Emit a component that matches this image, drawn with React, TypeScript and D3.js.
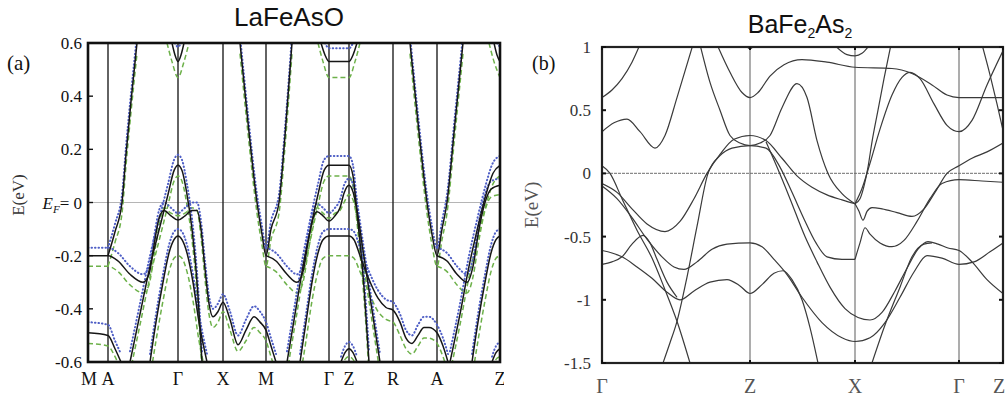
import React from "react";
import * as d3 from "d3";

// ================= Panel (a): LaFeAsO =================
const aPointLabels = ["M", "A", "Γ", "X", "M", "Γ", "Z", "R", "A", "Z"];
const aPointK = [0, 20, 90, 135, 178, 241, 261, 305, 349, 412];
const aTickValues = [0.6, 0.4, 0.2, 0, -0.2, -0.4, -0.6];
const aTickLabels = ["0.6", "0.4", "0.2", "EF", "-0.2", "-0.4", "-0.6"];

// band a1: flat -0.2 (M-A), dip, twin maxima around Γ, X, M
const a1K = [0, 20, 30, 42, 55, 61, 66, 71, 76, 83, 90, 97, 104, 109, 113, 117, 121, 125, 130, 135, 142, 150, 158, 166, 172, 178, 183, 188];
const a1Solid = [-0.2, -0.2, -0.22, -0.27, -0.3, -0.27, -0.16, -0.06, -0.03, -0.05, -0.066, -0.05, -0.03, -0.03, -0.1, -0.25, -0.38, -0.43, -0.41, -0.375, -0.44, -0.535, -0.48, -0.43, -0.45, -0.48, -0.54, -0.6];
const a1Dot = [-0.17, -0.17, -0.19, -0.24, -0.27, -0.24, -0.13, -0.03, 0.0, -0.02, -0.04, -0.02, 0.0, 0.0, -0.07, -0.22, -0.35, -0.4, -0.38, -0.345, -0.41, -0.5, -0.44, -0.39, -0.41, -0.45, -0.51, -0.57];
const a1Dash = [-0.24, -0.24, -0.26, -0.31, -0.34, -0.31, -0.2, -0.09, -0.02, -0.04, -0.05, -0.04, -0.02, -0.03, -0.13, -0.29, -0.42, -0.47, -0.45, -0.41, -0.48, -0.56, -0.52, -0.47, -0.49, -0.52, -0.58, -0.64];

// band a2: M -> Γ -> bump at Z
const a2K = [178, 188, 199, 209, 215, 220, 225, 229, 235, 241, 247, 252, 256, 261, 265, 269, 275, 283, 292];
const a2Solid = [-0.2, -0.22, -0.27, -0.3, -0.26, -0.15, -0.06, -0.035, -0.05, -0.07, -0.05, -0.02, 0.035, 0.065, 0.04, -0.03, -0.18, -0.38, -0.6];
const a2Dot = [-0.17, -0.19, -0.24, -0.27, -0.23, -0.12, -0.03, -0.005, -0.02, -0.04, -0.02, 0.01, 0.065, 0.09, 0.07, 0.0, -0.15, -0.35, -0.57];
const a2Dash = [-0.24, -0.26, -0.31, -0.34, -0.3, -0.19, -0.08, -0.02, -0.04, -0.06, -0.04, -0.03, 0.0, 0.03, 0.01, -0.06, -0.22, -0.42, -0.64];

// band a3: A -> Z
const a3K = [349, 359, 369, 379, 385, 391, 397, 403, 412];
const a3Solid = [-0.2, -0.22, -0.27, -0.3, -0.24, -0.1, 0.0, 0.05, 0.065];
const a3Dot = [-0.17, -0.19, -0.24, -0.27, -0.21, -0.07, 0.03, 0.08, 0.09];
const a3Dash = [-0.24, -0.26, -0.31, -0.34, -0.28, -0.14, -0.03, 0.02, 0.03];

// band a4: -0.13 hole band at Γ
const a4K = [62, 68, 75, 81, 86, 90, 94, 99, 105, 111, 119];
const a4Solid = [-0.6, -0.45, -0.3, -0.19, -0.14, -0.126, -0.14, -0.19, -0.3, -0.45, -0.6];
const a4Dot = [-0.57, -0.42, -0.27, -0.16, -0.11, -0.1, -0.11, -0.16, -0.27, -0.42, -0.57];
const a4Dash = [-0.66, -0.52, -0.37, -0.26, -0.21, -0.2, -0.21, -0.26, -0.37, -0.52, -0.66];

// band a5: -0.13 at Γ-Z, down to R, R -> A
const a5K = [212, 218, 224, 230, 235, 241, 261, 266, 272, 280, 290, 298, 305, 312, 318, 324, 330, 336, 341, 349, 355, 360];
const a5Solid = [-0.6, -0.45, -0.3, -0.19, -0.14, -0.126, -0.126, -0.14, -0.2, -0.28, -0.36, -0.395, -0.405, -0.45, -0.51, -0.53, -0.5, -0.47, -0.47, -0.49, -0.54, -0.6];
const a5Dot = [-0.57, -0.42, -0.27, -0.16, -0.11, -0.1, -0.1, -0.11, -0.17, -0.25, -0.33, -0.365, -0.375, -0.42, -0.48, -0.5, -0.46, -0.43, -0.43, -0.46, -0.51, -0.57];
const a5Dash = [-0.66, -0.52, -0.37, -0.26, -0.21, -0.2, -0.2, -0.21, -0.26, -0.33, -0.41, -0.44, -0.45, -0.5, -0.55, -0.57, -0.54, -0.51, -0.51, -0.53, -0.58, -0.64];

// band a6: hole band with top at 0.14 (Γ)
const a6K = [42, 52, 62, 72, 80, 86, 90, 94, 99, 104, 109, 114];
const a6Solid = [-0.6, -0.42, -0.24, -0.09, 0.03, 0.12, 0.14, 0.12, 0.03, -0.1, -0.3, -0.6];
const a6Dot = [-0.56, -0.38, -0.2, -0.05, 0.07, 0.16, 0.18, 0.16, 0.07, -0.06, -0.26, -0.56];
const a6Dash = [-0.64, -0.46, -0.28, -0.13, -0.01, 0.08, 0.1, 0.08, -0.01, -0.14, -0.34, -0.64];

// band a7: hole band 0.14, flat Γ-Z
const a7K = [199, 207, 215, 223, 230, 236, 241, 261, 265, 268, 272, 276, 281];
const a7Solid = [-0.6, -0.42, -0.24, -0.09, 0.03, 0.12, 0.14, 0.14, 0.1, 0.0, -0.15, -0.32, -0.6];
const a7Dot = [-0.56, -0.38, -0.2, -0.05, 0.07, 0.16, 0.175, 0.175, 0.14, 0.04, -0.11, -0.28, -0.56];
const a7Dash = [-0.64, -0.46, -0.28, -0.13, -0.01, 0.08, 0.1, 0.1, 0.06, -0.04, -0.19, -0.36, -0.64];

// band a8: hole band 0.14 ending at Z
const a8K = [362, 372, 381, 390, 398, 405, 412];
const a8Solid = [-0.6, -0.42, -0.24, -0.09, 0.03, 0.11, 0.14];
const a8Dot = [-0.56, -0.38, -0.2, -0.05, 0.07, 0.15, 0.175];
const a8Dash = [-0.64, -0.46, -0.28, -0.13, -0.01, 0.07, 0.1];

// band a9: -0.13 band ending at Z
const a9K = [384, 390, 397, 403, 408, 412];
const a9Solid = [-0.6, -0.45, -0.3, -0.19, -0.14, -0.126];
const a9Dot = [-0.57, -0.42, -0.27, -0.16, -0.11, -0.1];
const a9Dash = [-0.66, -0.52, -0.37, -0.26, -0.21, -0.2];

// band a10-a12: top bands near 0.53
const a10K = [84, 87, 90, 93, 96];
const a10Solid = [0.6, 0.555, 0.53, 0.555, 0.6];
const a10DotK = [87, 90, 93];
const a10Dot = [0.6, 0.585, 0.6];
const a10DashK = [79, 84, 90, 96, 101];
const a10Dash = [0.6, 0.53, 0.47, 0.53, 0.6];

const a11K = [233, 237, 241, 261, 265, 269];
const a11Solid = [0.6, 0.555, 0.53, 0.53, 0.555, 0.6];
const a11DotK = [237, 241, 261, 265];
const a11Dot = [0.6, 0.58, 0.58, 0.6];
const a11DashK = [230, 235, 241, 261, 267, 272];
const a11Dash = [0.6, 0.53, 0.47, 0.47, 0.53, 0.6];

const a12K = [406, 409, 412];
const a12Solid = [0.6, 0.555, 0.53];
const a12DotK = [409, 412];
const a12Dot = [0.6, 0.585];
const a12DashK = [401, 406, 412];
const a12Dash = [0.6, 0.53, 0.47];

// band a13: bottom flat M-A
const a13K = [0, 20, 27, 33];
const a13Solid = [-0.49, -0.5, -0.55, -0.6];
const a13Dot = [-0.45, -0.46, -0.52, -0.57];
const a13Dash = [-0.53, -0.54, -0.58, -0.63];

// bands a14, a15: small arcs at the bottom (Z)
const a14K = [253, 257, 261, 265, 269];
const a14Solid = [-0.6, -0.565, -0.55, -0.565, -0.6];
const a14Dot = [-0.58, -0.54, -0.525, -0.54, -0.58];
const a14Dash = [-0.62, -0.59, -0.58, -0.59, -0.62];
const a15K = [404, 408, 412];
const a15Solid = [-0.6, -0.565, -0.55];
const a15Dot = [-0.58, -0.54, -0.525];
const a15Dash = [-0.62, -0.59, -0.58];

// bands a16-a18: electron bands (steep V's)
const a16K = [20, 27, 34, 38, 43, 49];
const a16Solid = [-0.2, -0.11, 0.0, 0.18, 0.38, 0.6];
const a16Dot = [-0.17, -0.08, 0.03, 0.21, 0.41, 0.63];
const a16Dash = [-0.24, -0.15, -0.04, 0.14, 0.34, 0.56];
const a17K = [152, 160, 169, 174, 178, 183, 191, 197, 204];
const a17Solid = [0.6, 0.3, 0.0, -0.12, -0.2, -0.1, 0.0, 0.25, 0.6];
const a17Dot = [0.63, 0.33, 0.03, -0.09, -0.17, -0.07, 0.03, 0.28, 0.63];
const a17Dash = [0.56, 0.26, -0.04, -0.16, -0.24, -0.14, -0.04, 0.21, 0.56];
const a18K = [322, 330, 339, 344, 349, 354, 359, 367, 375];
const a18Solid = [0.6, 0.3, 0.0, -0.12, -0.2, -0.1, 0.0, 0.3, 0.6];
const a18Dot = [0.63, 0.33, 0.03, -0.09, -0.17, -0.07, 0.03, 0.33, 0.63];
const a18Dash = [0.56, 0.26, -0.04, -0.16, -0.24, -0.14, -0.04, 0.26, 0.56];

// ================= Panel (b): BaFe2As2 =================
const bPointLabels = ["Γ", "Z", "X", "Γ", "Z"];
const bPointK = [0, 148, 253, 357, 401];
const bTickValues = [1, 0.5, 0, -0.5, -1, -1.5];
const bTickLabels = ["1", "0.5", "0", "-0.5", "-1", "-1.5"];

const b1K = [0, 10, 20, 30, 38];
const b1E = [0.6, 0.66, 0.75, 0.88, 1.02];
const b2K = [0, 12, 25, 38, 53, 63, 75, 91];
const b2E = [0.33, 0.4, 0.43, 0.33, 0.2, 0.3, 0.6, 1.02];
const b3K = [115, 128, 140, 148, 156, 168, 182, 200, 225, 253, 290, 310, 330, 345, 357, 401];
const b3E = [1.02, 0.8, 0.64, 0.6, 0.64, 0.77, 0.86, 0.9, 0.88, 0.84, 0.83, 0.79, 0.7, 0.62, 0.6, 0.6];
const b4K = [232, 245, 253, 260, 268];
const b4E = [1.02, 0.94, 0.93, 0.95, 1.02];
const b4bK = [143, 148, 153];
const b4bE = [1.02, 0.985, 1.02];
const b5K = [98, 108, 118, 128, 138, 148, 158, 168, 180, 195, 205, 215, 226, 240, 253];
const b5E = [1.02, 0.72, 0.5, 0.3, 0.24, 0.22, 0.24, 0.3, 0.52, 0.71, 0.6, 0.26, 0.0, -0.16, -0.24];
const b6K = [0, 15, 30, 45, 63, 78, 92, 105, 118, 132, 148, 164, 180, 195, 210, 225, 240, 253];
const b6E = [-0.08, -0.15, -0.28, -0.4, -0.46, -0.38, -0.2, 0.0, 0.15, 0.27, 0.3, 0.26, 0.12, -0.02, -0.11, -0.17, -0.21, -0.24];
const b7K = [61, 68, 75, 85, 95, 106, 118, 130, 148, 164, 178, 190, 202, 214, 225, 240, 253];
const b7E = [-1.5, -1.34, -1.17, -0.82, -0.42, 0.0, 0.14, 0.2, 0.22, 0.2, 0.05, -0.15, -0.36, -0.55, -0.66, -0.68, -0.68];
const b8K = [0, 8, 20, 35, 50, 62, 75, 88];
const b8E = [0.06, 0.0, -0.2, -0.45, -0.67, -0.9, -1.17, -1.5];
const b9K = [0, 15, 30, 45, 60, 72, 82, 95, 110, 125, 148, 160, 172, 185, 200, 220, 240, 253, 268, 283, 298, 312, 325, 340, 357, 372, 388, 401];
const b9E = [-0.1, -0.2, -0.35, -0.52, -0.66, -0.74, -0.76, -0.7, -0.6, -0.56, -0.55, -0.58, -0.68, -0.8, -0.98, -1.18, -1.3, -1.33, -1.3, -1.18, -0.98, -0.78, -0.65, -0.67, -0.72, -0.7, -0.62, -0.55];
const b10K = [0, 10, 20, 35, 50, 65, 78, 92, 108, 125, 138, 148, 160, 172, 181, 190, 200, 208, 216];
const b10E = [-0.61, -0.63, -0.66, -0.74, -0.83, -0.94, -1.0, -0.93, -0.86, -0.84, -0.89, -0.95, -0.88, -0.79, -0.77, -0.84, -1.0, -1.22, -1.5];
const b11K = [0, 10, 20, 30, 41, 48, 55, 65, 75];
const b11E = [-0.72, -0.7, -0.66, -0.56, -0.49, -0.55, -0.68, -0.86, -0.98];
const b12K = [164, 175, 188, 203, 215, 228, 243, 256, 268, 280, 293, 305, 316, 326, 336, 346, 357, 370, 385, 401];
const b12E = [0.25, 0.05, -0.2, -0.5, -0.7, -0.9, -1.07, -1.14, -1.16, -1.1, -0.93, -0.75, -0.6, -0.54, -0.56, -0.59, -0.61, -0.7, -0.84, -0.95];
const b13K = [270, 283, 298, 310, 322, 330];
const b13E = [-1.5, -1.2, -0.9, -0.66, -0.56, -0.55];
const b14K = [253, 258, 262, 266, 270, 276, 282, 289];
const b14E = [-0.24, -0.2, -0.1, 0.05, 0.25, 0.5, 0.75, 1.02];
const b15K = [253, 260, 268, 278, 290, 300, 308, 318, 332, 345, 357, 370, 385, 401];
const b15E = [-0.24, -0.12, 0.08, 0.35, 0.62, 0.76, 0.8, 0.75, 0.55, 0.38, 0.33, 0.42, 0.7, 0.97];
const b16K = [253, 257, 261, 265, 270, 280, 295, 310, 322, 333, 345, 357, 370, 385, 401];
const b16E = [-0.24, -0.3, -0.37, -0.3, -0.27, -0.28, -0.31, -0.34, -0.28, -0.15, 0.0, 0.06, 0.12, 0.17, 0.24];
const b17K = [253, 258, 263, 268, 278, 290, 302, 315, 328, 340, 357, 380, 401];
const b17E = [-0.68, -0.55, -0.43, -0.48, -0.55, -0.58, -0.53, -0.38, -0.2, -0.08, -0.05, -0.06, -0.07];
const b18K = [380, 388, 395, 401];
const b18E = [1.02, 0.78, 0.55, 0.34];

// ---------------------------------------------------------
type Pt = [number, number];
const pts = (k: number[], e: number[]): Pt[] => k.map((v, i) => [v, e[i]]);

interface BandA { k: number[]; solid: number[]; dot: number[]; dash: number[]; kDot?: number[]; kDash?: number[] }
const aBands: BandA[] = [
  { k: a1K, solid: a1Solid, dot: a1Dot, dash: a1Dash },
  { k: a2K, solid: a2Solid, dot: a2Dot, dash: a2Dash },
  { k: a3K, solid: a3Solid, dot: a3Dot, dash: a3Dash },
  { k: a4K, solid: a4Solid, dot: a4Dot, dash: a4Dash },
  { k: a5K, solid: a5Solid, dot: a5Dot, dash: a5Dash },
  { k: a6K, solid: a6Solid, dot: a6Dot, dash: a6Dash },
  { k: a7K, solid: a7Solid, dot: a7Dot, dash: a7Dash },
  { k: a8K, solid: a8Solid, dot: a8Dot, dash: a8Dash },
  { k: a9K, solid: a9Solid, dot: a9Dot, dash: a9Dash },
  { k: a10K, solid: a10Solid, dot: a10Dot, dash: a10Dash, kDot: a10DotK, kDash: a10DashK },
  { k: a11K, solid: a11Solid, dot: a11Dot, dash: a11Dash, kDot: a11DotK, kDash: a11DashK },
  { k: a12K, solid: a12Solid, dot: a12Dot, dash: a12Dash, kDot: a12DotK, kDash: a12DashK },
  { k: a13K, solid: a13Solid, dot: a13Dot, dash: a13Dash },
  { k: a14K, solid: a14Solid, dot: a14Dot, dash: a14Dash },
  { k: a15K, solid: a15Solid, dot: a15Dot, dash: a15Dash },
  { k: a16K, solid: a16Solid, dot: a16Dot, dash: a16Dash },
  { k: a17K, solid: a17Solid, dot: a17Dot, dash: a17Dash },
  { k: a18K, solid: a18Solid, dot: a18Dot, dash: a18Dash },
];

const bBands: Pt[][] = [
  pts(b1K, b1E), pts(b2K, b2E), pts(b3K, b3E), pts(b4K, b4E), pts(b4bK, b4bE),
  pts(b5K, b5E), pts(b6K, b6E), pts(b7K, b7E), pts(b8K, b8E), pts(b9K, b9E),
  pts(b10K, b10E), pts(b11K, b11E), pts(b12K, b12E), pts(b13K, b13E),
  pts(b14K, b14E), pts(b15K, b15E), pts(b16K, b16E), pts(b17K, b17E), pts(b18K, b18E),
];

const serif = "'Liberation Serif', 'Times New Roman', serif";
const sans = "'Liberation Sans', Arial, sans-serif";

export default function App() {
  const ax = d3.scaleLinear().domain([0, 412]).range([88, 500]);
  const ay = d3.scaleLinear().domain([-0.6, 0.6]).range([362, 43]);
  const bx = d3.scaleLinear().domain([0, 401]).range([602, 1003]);
  const by = d3.scaleLinear().domain([-1.5, 1]).range([363, 47]);

  const aLine = d3.line<Pt>().x((d) => ax(d[0])).y((d) => ay(d[1])).curve(d3.curveMonotoneX);
  const bLine = d3.line<Pt>().x((d) => bx(d[0])).y((d) => by(d[1])).curve(d3.curveMonotoneX);

  const [ax0, ax1] = ax.range();
  const [ay1, ay0] = ay.range();
  const [bx0, bx1] = bx.range();
  const [by1, by0] = by.range();

  return (
    <svg width={1007} height={398} style={{ position: "absolute", left: 0, top: 0, background: "#fff" }}
      xmlns="http://www.w3.org/2000/svg">
      <defs>
        <clipPath id="clipA"><rect x={ax0} y={ay0} width={ax1 - ax0} height={ay1 - ay0} /></clipPath>
        <clipPath id="clipB"><rect x={bx0} y={by0} width={bx1 - bx0} height={by1 - by0} /></clipPath>
      </defs>
      <rect x={0} y={0} width={1007} height={398} fill="#fff" />

      {/* ---------- Panel (a) ---------- */}
      <text x={289} y={26} textAnchor="middle" fontFamily={sans} fontSize={26} fill="#111">LaFeAsO</text>
      <text x={7} y={70} fontFamily={serif} fontSize={21} fill="#111">(a)</text>
      <line x1={ax0} x2={ax1} y1={ay(0)} y2={ay(0)} stroke="#b5b5b5" strokeWidth={1.2} />
      {aPointK.map((k, i) => (
        <line key={"av" + i} x1={ax(k)} x2={ax(k)} y1={ay0} y2={ay1} stroke="#222" strokeWidth={1.4} />
      ))}
      <g clipPath="url(#clipA)" fill="none">
        {aBands.map((b, i) => (
          <path key={"ag" + i} d={aLine(pts(b.kDash || b.k, b.dash)) || ""} stroke="#6db14a"
            strokeWidth={1.5} strokeDasharray="5 3" />
        ))}
        {aBands.map((b, i) => (
          <path key={"ab" + i} d={aLine(pts(b.kDot || b.k, b.dot)) || ""} stroke="#4f5fc6"
            strokeWidth={2} strokeDasharray="0.5 3" strokeLinecap="round" />
        ))}
        {aBands.map((b, i) => (
          <path key={"as" + i} d={aLine(pts(b.k, b.solid)) || ""} stroke="#161616" strokeWidth={1.5} />
        ))}
      </g>
      <rect x={ax0} y={ay0} width={ax1 - ax0} height={ay1 - ay0} fill="none" stroke="#111" strokeWidth={2.6} />
      {aTickValues.map((v, i) => (
        <line key={"at" + i} x1={ax0} x2={ax0 + 5} y1={ay(v)} y2={ay(v)} stroke="#111" strokeWidth={1.4} />
      ))}
      {aTickValues.map((v, i) =>
        aTickLabels[i] === "EF" ? (
          <text key={"al" + i} x={82} y={ay(v) + 6} textAnchor="end" fontFamily={serif} fontSize={17} fill="#111">
            <tspan fontStyle="italic">E</tspan>
            <tspan fontStyle="italic" fontSize={11} dy={4}>F</tspan>
            <tspan dy={-4}>= 0</tspan>
          </text>
        ) : (
          <text key={"al" + i} x={82} y={ay(v) + 6} textAnchor="end" fontFamily={serif} fontSize={17} fill="#111">
            {aTickLabels[i]}
          </text>
        )
      )}
      <text transform={`translate(24, 195) rotate(-90)`} textAnchor="middle" fontFamily={serif} fontSize={17} fill="#333">E(eV)</text>
      {aPointK.map((k, i) => (
        <text key={"ax" + i} x={ax(k) + (i === 0 ? 1 : 0)} y={385} textAnchor="middle" fontFamily={serif} fontSize={18} fill="#111">
          {aPointLabels[i]}
        </text>
      ))}

      {/* ---------- Panel (b) ---------- */}
      <rect x={504} y={0} width={503} height={398} fill="#fff" />
      <text x={800} y={33} textAnchor="middle" fontFamily={sans} fontSize={25} fill="#111">
        BaFe<tspan fontSize={14} dy={5}>2</tspan><tspan dy={-5}>As</tspan><tspan fontSize={14} dy={5}>2</tspan>
      </text>
      <text x={532} y={70} fontFamily={serif} fontSize={20} fill="#111">(b)</text>
      <line x1={bx0} x2={bx1} y1={by(0)} y2={by(0)} stroke="#8a8a8a" strokeWidth={1.3} strokeDasharray="3 1" />
      {bPointK.map((k, i) => (
        <line key={"bv" + i} x1={bx(k)} x2={bx(k)} y1={by0} y2={by1} stroke="#6a6a6a" strokeWidth={1.1} />
      ))}
      <g clipPath="url(#clipB)" fill="none">
        {bBands.map((p, i) => (
          <path key={"bb" + i} d={bLine(p) || ""} stroke="#3a3a3a" strokeWidth={1.2} />
        ))}
      </g>
      <rect x={bx0} y={by0} width={bx1 - bx0} height={by1 - by0} fill="none" stroke="#222" strokeWidth={2.2} />
      {bTickValues.map((v, i) => (
        <g key={"bt" + i}>
          <line x1={bx0} x2={bx0 + 4} y1={by(v)} y2={by(v)} stroke="#111" strokeWidth={2} />
          <line x1={bx1 - 4} x2={bx1} y1={by(v)} y2={by(v)} stroke="#111" strokeWidth={2} />
          <text x={591} y={by(v) + 6} textAnchor="end" fontFamily={serif} fontSize={17} fill="#333">{bTickLabels[i]}</text>
        </g>
      ))}
      {bPointK.map((k, i) => (
        <g key={"bx" + i}>
          <line x1={bx(k)} x2={bx(k)} y1={by0} y2={by0 + 3} stroke="#111" strokeWidth={2} />
          <line x1={bx(k)} x2={bx(k)} y1={by1 - 3} y2={by1} stroke="#111" strokeWidth={2} />
          <text x={i === bPointK.length - 1 ? bx(k) - 4 : bx(k)} y={393} textAnchor="middle" fontFamily={serif} fontSize={20} fill="#555">{bPointLabels[i]}</text>
        </g>
      ))}
      <text transform={`translate(538, 205) rotate(-90)`} textAnchor="middle" fontFamily={serif} fontSize={19} fill="#555">E(eV)</text>
    </svg>
  );
}
